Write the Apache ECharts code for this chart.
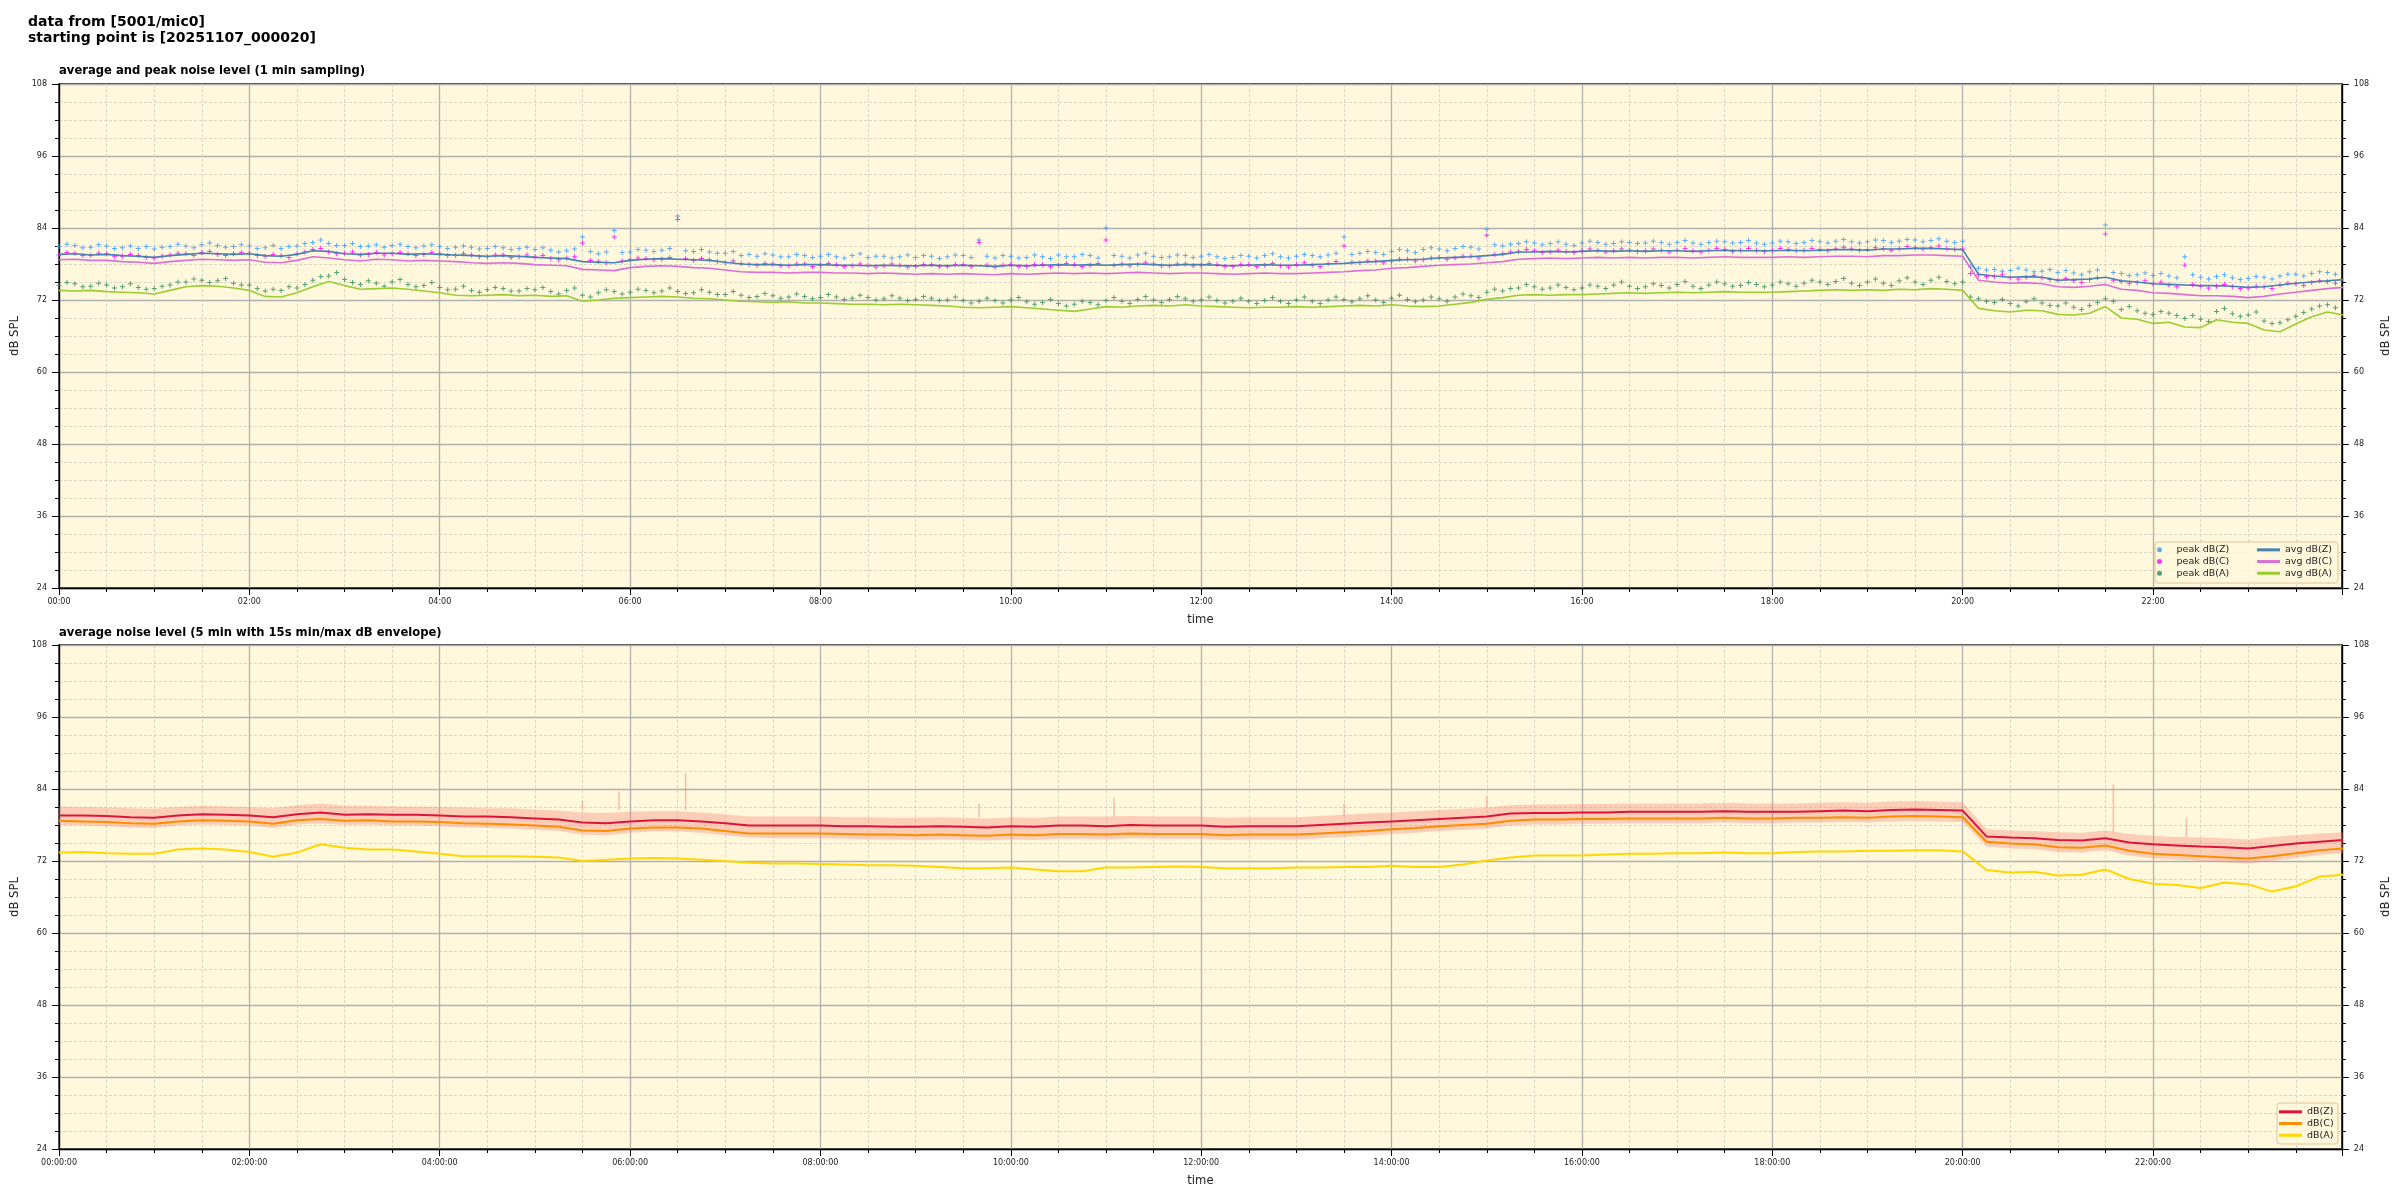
<!DOCTYPE html>
<html><head><meta charset="utf-8">
<script src="https://cdn.jsdelivr.net/npm/echarts@6/dist/echarts.min.js"></script>
<style>html,body{margin:0;padding:0;background:#fff}#c{width:2400px;height:1200px}</style>
</head><body><div id="c"></div>
<script>
// ---------- top panel: 1 min averages read every 10 minutes ----------
const AVG_STEP = 10;
const avgZ = [
79.6,79.7,79.5,79.6,79.4,79.3, 79.1,79.4,79.6,79.8,79.7,79.6, 79.7,79.4,79.3,79.6,80.2,80.1,
79.7,79.6,79.8,79.8,79.6,79.7, 79.6,79.5,79.4,79.3,79.4,79.3, 79.1,79.0,78.9,78.4,78.3,78.2,
78.6,78.8,78.9,78.8,78.7,78.6, 78.3,78.0,77.9,77.9,77.8,77.9, 77.9,77.8,77.8,77.7,77.8,77.7,
77.7,77.8,77.7,77.8,77.7,77.6, 77.8,77.7,77.8,77.9,77.8,77.9, 77.8,77.9,78.0,77.9,77.8,77.9,
77.9,77.8,77.7,77.8,77.9,77.8, 77.8,77.9,78.0,78.1,78.3,78.4, 78.6,78.7,78.8,79.0,79.1,79.2,
79.4,79.6,80.0,80.0,80.1,80.0, 80.1,80.2,80.1,80.2,80.1,80.2, 80.2,80.1,80.2,80.3,80.2,80.2,
80.2,80.3,80.2,80.3,80.4,80.4, 80.3,80.5,80.5,80.6,80.6,80.5, 80.4,76.3,76.0,75.8,75.9,75.8,
75.3,75.4,75.5,75.8,75.2,75.0, 74.7,74.6,74.5,74.4,74.4,74.3, 74.1,74.2,74.5,74.8,75.0,75.2,
75.4];
const avgC = [
78.7,78.8,78.6,78.6,78.4,78.3, 78.1,78.4,78.6,78.8,78.7,78.6, 78.7,78.3,78.2,78.6,79.2,79.0,
78.7,78.5,78.8,78.7,78.5,78.6, 78.5,78.4,78.2,78.1,78.2,78.1, 77.9,77.8,77.7,77.1,77.0,76.9,
77.4,77.6,77.7,77.6,77.4,77.3, 77.0,76.7,76.6,76.6,76.5,76.6, 76.6,76.5,76.5,76.4,76.5,76.4,
76.3,76.4,76.3,76.4,76.3,76.2, 76.4,76.3,76.4,76.5,76.4,76.5, 76.4,76.5,76.6,76.5,76.4,76.5,
76.5,76.4,76.3,76.4,76.5,76.4, 76.4,76.5,76.6,76.7,76.9,77.0, 77.3,77.4,77.6,77.8,77.9,78.0,
78.2,78.4,78.8,78.9,79.0,78.9, 79.0,79.1,79.0,79.1,79.0,79.1, 79.1,79.0,79.1,79.2,79.1,79.1,
79.1,79.2,79.1,79.2,79.3,79.3, 79.2,79.4,79.4,79.5,79.5,79.4, 79.3,75.3,75.0,74.8,74.9,74.7,
74.2,74.1,74.3,74.6,73.8,73.6, 73.2,73.1,72.9,72.7,72.7,72.6, 72.4,72.6,73.0,73.3,73.6,73.9,
74.1];
const avgA = [
73.6,73.5,73.6,73.4,73.3,73.2, 73.0,73.6,74.2,74.4,74.3,74.0, 73.6,72.6,72.5,73.2,74.2,75.1,
74.4,73.8,73.9,74.0,73.8,73.5, 73.2,72.8,72.7,72.8,72.9,72.7, 72.8,72.6,72.7,71.8,72.0,72.3,
72.4,72.5,72.6,72.5,72.3,72.2, 72.0,71.8,71.7,71.6,71.7,71.5, 71.5,71.4,71.3,71.3,71.2,71.3,
71.2,71.1,71.0,70.8,70.7,70.8, 70.9,70.7,70.5,70.3,70.1,70.5, 70.9,70.8,71.0,71.1,71.0,71.2,
71.0,70.9,70.8,70.7,70.8,70.8, 70.9,70.8,70.9,71.0,71.1,71.0, 71.2,71.0,70.9,71.0,71.3,71.6,
72.1,72.4,72.8,72.9,72.8,72.9, 72.9,73.0,73.1,73.2,73.1,73.2, 73.3,73.2,73.3,73.4,73.3,73.3,
73.3,73.4,73.5,73.6,73.7,73.6, 73.7,73.6,73.8,73.7,73.9,73.8, 73.6,70.6,70.2,70.0,70.3,70.2,
69.6,69.5,69.8,70.9,69.0,68.8, 68.1,68.3,67.5,67.4,68.7,68.3, 68.1,67.0,66.7,68.0,69.2,70.0,
69.5];
// ---------- top panel: peaks read every 5 minutes ----------
const PEAK_STEP = 5;
const peakZ = [
80.9,81.3,81.1,80.7,80.8,81.2,81.0,80.6,80.7,81.0,80.6,80.9,
80.5,80.8,80.9,81.3,81.0,80.7,81.2,81.5,81.1,80.8,80.9,81.2,
81.0,80.6,80.7,81.1,80.6,80.9,81.0,81.4,81.6,82.0,81.4,81.1,
81.1,81.4,80.9,81.0,81.2,80.8,81.1,81.3,80.9,80.7,81.0,81.2,
80.9,80.6,80.8,81.0,80.8,80.5,80.6,80.9,80.7,80.4,80.6,80.8,
80.4,80.7,80.3,80.0,80.2,80.5,82.5,80.1,79.7,80.0,83.6,79.9,
80.0,80.4,80.3,80.1,80.3,80.6,86.0,80.2,80.1,80.4,80.0,79.8,
79.8,80.1,79.4,79.6,79.3,79.7,79.5,79.2,79.2,79.6,79.4,79.1,
79.3,79.6,79.2,79.0,79.4,79.7,79.1,79.3,79.3,79.0,79.2,79.5,
79.1,79.4,79.3,78.9,79.2,79.5,79.4,79.1,82.0,79.3,79.0,79.4,
79.3,79.0,79.1,79.5,79.2,78.9,79.5,79.2,79.2,79.6,79.4,79.0,
84.0,79.4,79.3,79.0,79.5,79.8,79.3,79.1,79.2,79.5,79.4,79.1,
79.3,79.6,79.2,78.9,79.1,79.4,79.3,79.0,79.4,79.7,79.2,79.0,
79.3,79.6,79.4,79.2,79.5,79.8,82.5,79.6,79.8,80.1,79.9,79.6,
80.1,80.4,80.2,79.9,80.4,80.7,80.5,80.2,80.6,80.9,80.8,80.5,
83.8,81.2,81.0,81.3,81.4,81.7,81.5,81.2,81.4,81.7,81.3,81.1,
81.5,81.8,81.6,81.3,81.4,81.7,81.6,81.4,81.5,81.8,81.6,81.3,
81.6,81.9,81.5,81.3,81.6,81.8,81.7,81.5,81.6,81.9,81.5,81.3,
81.5,81.8,81.7,81.4,81.6,81.9,81.7,81.5,81.8,82.1,81.7,81.5,
81.7,82.0,81.9,81.6,81.8,82.1,82.0,81.7,81.9,82.2,81.8,81.6,
81.8,77.5,77.3,77.0,77.1,76.8,76.9,77.3,77.0,76.7,76.8,77.1,
76.6,76.9,76.5,76.2,76.7,77.0,84.5,76.6,76.4,76.1,76.2,76.5,
76.1,76.4,76.0,75.7,79.2,76.2,75.8,75.5,75.9,76.2,75.7,75.4,
75.6,75.9,75.8,75.5,76.0,76.3,76.3,76.0,76.4,76.7,76.6,76.3,
76.6];
const peakC = [
79.5,79.9,79.8,79.4,79.4,79.8,79.7,79.3,79.3,79.6,79.4,79.1,
79.0,79.3,79.5,79.8,79.7,79.4,79.9,80.1,79.6,79.4,79.7,79.9,
79.8,79.4,79.3,79.6,79.4,79.1,79.7,80.0,80.4,80.6,80.0,79.7,
79.8,80.0,79.5,79.6,79.9,79.5,79.7,79.9,79.7,79.4,79.6,79.9,
79.7,79.4,79.4,79.7,79.5,79.2,79.2,79.5,79.5,79.1,79.2,79.5,
79.2,79.4,78.9,78.7,79.0,79.2,81.5,78.6,78.4,78.2,82.5,78.5,
78.7,79.0,78.9,78.7,78.8,79.1,85.4,78.9,78.6,78.9,78.7,78.4,
78.2,78.5,78.1,77.9,77.8,78.1,78.0,77.7,77.7,78.0,78.0,77.6,
77.8,78.1,77.9,77.6,77.7,78.0,77.8,77.5,77.7,78.0,77.8,77.5,
77.6,77.9,77.9,77.6,77.6,77.9,77.9,77.6,81.6,77.8,77.5,77.8,
77.9,77.6,77.6,77.9,77.9,77.6,77.8,78.1,77.9,77.6,77.8,78.1,
82.0,77.8,78.0,77.7,77.9,78.2,78.0,77.7,77.7,78.0,78.0,77.7,
77.8,78.1,77.9,77.6,77.6,77.9,77.9,77.6,77.8,78.1,77.7,77.5,
77.9,78.2,77.8,77.6,78.1,78.4,81.0,78.3,78.2,78.5,78.5,78.2,
78.5,78.8,78.8,78.5,78.7,79.0,79.1,78.8,79.0,79.3,79.3,79.0,
82.8,79.6,79.7,80.0,80.1,80.4,80.2,79.9,80.0,80.3,80.1,79.9,
80.2,80.5,80.3,80.0,80.2,80.5,80.3,80.1,80.2,80.5,80.3,80.0,
80.3,80.6,80.2,80.0,80.3,80.6,80.4,80.1,80.3,80.6,80.3,80.1,
80.3,80.6,80.4,80.2,80.3,80.6,80.4,80.2,80.5,80.8,80.5,80.3,
80.4,80.7,80.6,80.3,80.6,80.9,80.7,80.5,80.7,81.0,80.6,80.4,
80.5,76.4,76.2,75.9,75.9,76.2,75.7,75.5,75.8,76.1,75.7,75.4,
75.3,75.6,75.2,74.9,75.4,75.7,83.0,75.3,75.1,74.8,74.9,75.2,
74.7,75.0,74.5,74.2,77.8,74.6,74.3,74.0,74.3,74.6,74.2,73.9,
74.0,74.3,74.2,73.9,74.5,74.8,74.7,74.4,74.9,75.2,75.1,74.8,
75.3];
const peakA = [
74.4,74.9,74.7,74.2,74.3,74.8,74.5,74.0,74.2,74.7,74.1,73.8,
73.9,74.3,74.5,75.0,75.0,75.5,75.3,74.9,75.2,75.6,74.8,74.5,
74.5,73.9,73.5,73.8,73.6,74.2,74.0,74.6,75.3,75.9,76.0,76.6,
75.4,74.9,74.6,75.2,74.8,74.3,75.0,75.4,74.6,74.2,74.4,74.9,
74.1,73.7,73.8,74.3,73.6,73.3,73.7,74.1,73.9,73.5,73.5,73.9,
73.7,74.1,73.4,73.0,73.6,74.0,72.8,72.5,73.2,73.7,73.4,73.0,
73.3,73.8,73.6,73.2,73.5,74.0,73.4,73.1,73.2,73.7,73.3,72.9,
72.9,73.4,72.8,72.4,72.6,73.1,72.7,72.3,72.5,73.0,72.6,72.2,
72.4,72.9,72.5,72.1,72.3,72.8,72.4,72.0,72.2,72.7,72.3,71.9,
72.1,72.6,72.3,71.9,72.0,72.5,71.9,71.5,71.8,72.3,71.9,71.5,
72.0,72.4,71.7,71.3,71.6,72.1,71.4,71.0,71.3,71.8,71.6,71.2,
71.9,72.4,71.8,71.4,72.1,72.6,72.0,71.6,72.1,72.6,72.2,71.8,
72.0,72.5,71.9,71.5,71.8,72.3,71.8,71.4,71.9,72.4,71.8,71.4,
72.0,72.5,71.8,71.4,72.0,72.5,72.1,71.7,72.2,72.7,72.0,71.6,
72.3,72.8,72.1,71.7,72.0,72.5,72.2,71.8,72.5,73.0,72.7,72.4,
73.3,73.8,73.5,73.9,74.0,74.6,74.2,73.8,74.0,74.5,74.1,73.7,
74.0,74.5,74.3,73.9,74.5,75.0,74.3,73.9,74.2,74.7,74.4,74.0,
74.6,75.1,74.3,73.9,74.5,75.0,74.7,74.3,74.4,74.9,74.6,74.2,
74.5,75.0,74.7,74.3,74.8,75.3,75.0,74.6,75.1,75.6,74.8,74.4,
75.0,75.5,74.8,74.4,75.2,75.7,75.0,74.6,75.3,75.8,75.1,74.7,
75.0,72.5,72.2,71.8,71.6,72.1,71.4,71.0,71.7,72.2,71.5,71.1,
71.0,71.5,70.8,70.4,71.1,71.6,72.2,71.8,70.4,70.9,70.2,69.8,
69.6,70.1,69.8,69.4,68.9,69.4,68.8,68.4,70.1,70.6,69.7,69.3,
69.5,70.0,68.5,68.1,68.2,68.7,69.3,69.9,70.5,71.0,71.2,70.7,
70.8];

// ---------- bottom panel: 5 min averages read every 15 minutes ----------
const BOT_STEP = 15;
const dbZ = [
79.6,79.6,79.5,79.3, 79.2,79.6,79.8,79.7, 79.6,79.3,79.8,80.1, 79.7,79.8,79.7,79.7,
79.6,79.4,79.4,79.3, 79.1,78.9,78.4,78.3, 78.6,78.8,78.8,78.6, 78.3,77.9,77.9,77.9,
77.9,77.8,77.8,77.7, 77.7,77.8,77.7,77.6, 77.8,77.7,77.9,77.9, 77.8,78.0,77.9,77.9,
77.9,77.7,77.8,77.8, 77.8,78.0,78.2,78.4, 78.6,78.8,79.0,79.2, 79.4,79.9,80.0,80.0,
80.1,80.1,80.2,80.2, 80.2,80.2,80.3,80.2, 80.2,80.2,80.3,80.4, 80.3,80.5,80.6,80.5,
80.4,76.1,75.9,75.8, 75.5,75.4,75.8,75.1, 74.8,74.6,74.4,74.3, 74.1,74.5,74.9,75.2,
75.5];
const dbC = [
78.7,78.6,78.5,78.3, 78.2,78.6,78.8,78.7, 78.6,78.2,78.8,79.0, 78.7,78.8,78.6,78.6,
78.5,78.3,78.2,78.1, 77.9,77.7,77.1,77.0, 77.4,77.6,77.6,77.4, 77.0,76.6,76.6,76.6,
76.6,76.5,76.4,76.4, 76.3,76.4,76.3,76.2, 76.4,76.3,76.5,76.5, 76.4,76.6,76.5,76.5,
76.5,76.3,76.4,76.4, 76.4,76.6,76.8,77.0, 77.3,77.5,77.8,78.0, 78.2,78.7,78.9,78.9,
79.0,79.0,79.1,79.1, 79.1,79.1,79.2,79.1, 79.1,79.2,79.2,79.3, 79.2,79.4,79.5,79.4,
79.3,75.2,74.9,74.8, 74.3,74.2,74.6,73.7, 73.2,73.0,72.8,72.6, 72.4,72.8,73.3,73.8,
74.1];
const dbA = [
73.4,73.5,73.3,73.2, 73.2,73.9,74.1,73.9, 73.5,72.7,73.4,74.8, 74.2,73.9,73.9,73.6,
73.2,72.8,72.8,72.8, 72.7,72.6,72.0,72.2, 72.4,72.5,72.4,72.2, 72.0,71.7,71.6,71.6,
71.5,71.4,71.3,71.3, 71.2,71.0,70.8,70.8, 70.9,70.6,70.3,70.3, 70.9,70.9,71.0,71.1,
71.0,70.8,70.8,70.8, 70.9,70.9,71.0,71.0, 71.2,71.0,71.0,71.4, 72.1,72.6,72.9,72.9,
72.9,73.1,73.2,73.2, 73.3,73.3,73.4,73.3, 73.3,73.5,73.6,73.6, 73.7,73.7,73.8,73.8,
73.6,70.5,70.1,70.2, 69.6,69.7,70.6,69.0, 68.2,68.0,67.5,68.4, 68.1,66.9,67.8,69.4,
69.7];
const envMax = [
81.1,81.0,80.9,80.8, 80.7,81.0,81.2,81.1, 81.0,80.8,81.3,81.6, 81.2,81.2,81.1,81.1,
81.0,80.9,80.8,80.8, 80.6,80.4,80.1,80.0, 80.2,80.3,80.3,80.1, 79.8,79.4,79.4,79.4,
79.4,79.3,79.3,79.2, 79.2,79.3,79.2,79.1, 79.3,79.2,79.4,79.4, 79.4,79.5,79.4,79.4,
79.4,79.2,79.3,79.3, 79.3,79.5,79.7,79.9, 80.1,80.3,80.5,80.7, 80.9,81.3,81.4,81.4,
81.5,81.5,81.6,81.6, 81.6,81.6,81.7,81.6, 81.6,81.6,81.7,81.8, 81.7,81.9,82.0,81.9,
81.8,77.3,77.1,77.0, 76.8,76.7,77.1,76.5, 76.2,76.0,75.9,75.8, 75.6,76.0,76.3,76.6,
76.8];
const envMin = [
78.0,77.9,77.8,77.6, 77.5,77.9,78.1,78.0, 77.9,77.5,78.1,78.3, 78.0,78.1,77.9,77.9,
77.8,77.6,77.5,77.4, 77.2,77.0,76.4,76.3, 76.7,76.9,76.9,76.7, 76.3,75.9,75.8,75.8,
75.8,75.7,75.6,75.6, 75.5,75.6,75.5,75.4, 75.6,75.5,75.7,75.7, 75.6,75.8,75.7,75.7,
75.7,75.5,75.6,75.6, 75.6,75.8,76.0,76.2, 76.5,76.7,77.0,77.2, 77.4,77.9,78.1,78.1,
78.2,78.2,78.3,78.3, 78.3,78.3,78.4,78.3, 78.3,78.4,78.4,78.5, 78.4,78.6,78.7,78.6,
78.5,74.4,74.1,74.0, 73.5,73.4,73.8,72.9, 72.4,72.2,72.0,71.8, 71.6,72.0,72.5,73.0,
73.3];
// short 15 s peaks in the envelope: minute of day, low and high dB
const spikeMin = [330, 353, 395, 580, 665, 810, 900, 1295, 1341];
const spikeLo  = [80.5, 80.5, 80.5, 79.3, 79.3, 79.6, 81.0, 76.8, 76.0];
const spikeHi  = [82.0, 83.6, 86.6, 81.5, 82.5, 81.5, 82.7, 84.8, 79.2];

// ---------- axes ----------
const X_MAX = 1439, X_INTERVAL = 120;
const Y_MIN = 24, Y_MAX = 108, Y_INTERVAL = 12;

const pad = n => String(n).padStart(2, '0');
const hhmm = v => pad(Math.floor(v / 60)) + ':' + pad(Math.round(v % 60));
const hhmmss = v => hhmm(v) + ':00';

const PLUS = 'path://M2,0H3V2H5V3H3V5H2V3H0V2H2Z';
const BG = '#fff8dc';
const TXT = '#222';
const MINOR = { color: '#d2ccbd', width: 0.8, type: [3, 2] };

function xAxis(gridIndex, fmt) {
  return {
    type: 'value', gridIndex, min: 0, max: X_MAX, interval: X_INTERVAL,
    name: 'time', nameLocation: 'middle', nameGap: 26,
    nameTextStyle: { fontSize: 11.6, color: TXT, fontFamily: 'DejaVu Sans' },
    axisLine: { show: true, lineStyle: { color: '#000', width: 1.3 } },
    axisTick: { show: true, inside: false, length: 7, lineStyle: { color: '#000', width: 1 } },
    minorTick: { show: true, splitNumber: 4, length: 4, lineStyle: { color: '#000', width: 1 } },
    axisLabel: { formatter: fmt, fontSize: 8, color: TXT, margin: 10, showMaxLabel: false, fontFamily: 'DejaVu Sans' },
    splitLine: { show: true, lineStyle: { color: '#b0b0b0', width: 1.3 } },
    minorSplitLine: { show: true, lineStyle: MINOR }
  };
}
function yAxis(gridIndex, position, grid) {
  return {
    type: 'value', gridIndex, position, min: Y_MIN, max: Y_MAX, interval: Y_INTERVAL,
    name: 'dB SPL', nameLocation: 'middle', nameRotate: 90, nameGap: position === 'left' ? 35 : 32,
    nameTextStyle: { fontSize: 11.6, color: TXT, fontFamily: 'DejaVu Sans' },
    axisLine: { show: true, lineStyle: { color: '#000', width: 1.3 } },
    axisTick: { show: true, inside: false, length: 7, lineStyle: { color: '#000', width: 1 } },
    minorTick: { show: true, splitNumber: 4, length: 4, lineStyle: { color: '#000', width: 1 } },
    axisLabel: { fontSize: 8, color: TXT, margin: 12, fontFamily: 'DejaVu Sans' },
    splitLine: { show: grid, lineStyle: { color: '#b0b0b0', width: 1.3 } },
    minorSplitLine: { show: grid, lineStyle: MINOR }
  };
}

const pts = (arr, step) => arr.map((v, i) => [i * step, v]);

function peakSeries(name, arr, color) {
  return { name, type: 'scatter', xAxisIndex: 0, yAxisIndex: 0, data: pts(arr, PEAK_STEP),
    symbol: PLUS, symbolSize: 5, color, itemStyle: { color }, z: 2 };
}
function lineSeries(name, arr, step, color, xi, yi, width) {
  return { name, type: 'line', xAxisIndex: xi, yAxisIndex: yi, data: pts(arr, step),
    showSymbol: false, symbol: 'none', color, itemStyle: { color },
    lineStyle: { color, width }, z: 3 };
}
const legendText = { fontSize: 9.5, color: TXT, lineHeight: 11.7, fontFamily: 'DejaVu Sans' };

const chart = echarts.init(document.getElementById('c'), null, { renderer: 'canvas' });
chart.setOption({
  animation: false,
  backgroundColor: '#ffffff',
  textStyle: { fontFamily: 'DejaVu Sans' },
  title: [
    { text: 'data from [5001/mic0]\nstarting point is [20251107_000020]', left: 23, top: 10,
      textStyle: { fontSize: 14, fontWeight: 'bold', color: '#000', lineHeight: 15.5, fontFamily: 'DejaVu Sans' } },
    { text: 'average and peak noise level (1 min sampling)', left: 59, top: 64, padding: 0,
      textStyle: { fontSize: 11.6, fontWeight: 'bold', color: '#000', lineHeight: 14, fontFamily: 'DejaVu Sans' } },
    { text: 'average noise level (5 min with 15s min/max dB envelope)', left: 59, top: 626, padding: 0,
      textStyle: { fontSize: 11.6, fontWeight: 'bold', color: '#000', lineHeight: 14, fontFamily: 'DejaVu Sans' } }
  ],
  grid: [
    { left: 59, top: 84, width: 2284, height: 504, show: true, backgroundColor: BG, borderColor: '#000', borderWidth: 1.3 },
    { left: 59, top: 645, width: 2284, height: 504, show: true, backgroundColor: BG, borderColor: '#000', borderWidth: 1.3 }
  ],
  xAxis: [ xAxis(0, hhmm), xAxis(1, hhmmss) ],
  yAxis: [ yAxis(0, 'left', true), yAxis(0, 'right', false), yAxis(1, 'left', true), yAxis(1, 'right', false) ],
  graphic: [
    { type: 'rect', z: 3, shape: { x: 2155, y: 542, width: 183, height: 41, r: 3 },
      style: { fill: 'rgba(255,248,220,0.85)', stroke: '#dcc69c', lineWidth: 1 } },
    { type: 'rect', z: 3, shape: { x: 2277, y: 1103, width: 61, height: 41, r: 3 },
      style: { fill: 'rgba(255,248,220,0.85)', stroke: '#dcc69c', lineWidth: 1 } }
  ],
  legend: [
    { orient: 'vertical', left: 2157, top: 544, padding: 0, itemGap: 0, itemWidth: 24, itemHeight: 5,
      selectedMode: false, z: 5, textStyle: legendText,
      data: [ { name: 'peak dB(Z)', icon: 'circle' }, { name: 'peak dB(C)', icon: 'circle' }, { name: 'peak dB(A)', icon: 'circle' } ] },
    { orient: 'vertical', left: 2257, top: 544, padding: 0, itemGap: 0, itemWidth: 23, itemHeight: 3,
      selectedMode: false, z: 5, textStyle: legendText,
      data: [ { name: 'avg dB(Z)', icon: 'rect' }, { name: 'avg dB(C)', icon: 'rect' }, { name: 'avg dB(A)', icon: 'rect' } ] },
    { orient: 'vertical', left: 2279, top: 1106, padding: 0, itemGap: 0, itemWidth: 23, itemHeight: 3,
      selectedMode: false, z: 5, textStyle: legendText,
      data: [ { name: 'dB(Z)', icon: 'rect' }, { name: 'dB(C)', icon: 'rect' }, { name: 'dB(A)', icon: 'rect' } ] }
  ],
  series: [
    peakSeries('peak dB(Z)', peakZ, '#3399ff'),
    peakSeries('peak dB(C)', peakC, '#ff00ff'),
    peakSeries('peak dB(A)', peakA, '#2e8b57'),
    lineSeries('avg dB(Z)', avgZ, AVG_STEP, '#4682b4', 0, 0, 1.6),
    lineSeries('avg dB(C)', avgC, AVG_STEP, '#da70d6', 0, 0, 1.6),
    lineSeries('avg dB(A)', avgA, AVG_STEP, '#9acd32', 0, 0, 1.6),
    { name: 'envelope', type: 'custom', xAxisIndex: 1, yAxisIndex: 2, z: 1, silent: true,
      data: [[0, envMax[0]]],
      renderItem: function (params, api) {
        const p = [];
        for (let i = 0; i < envMax.length; i++) p.push(api.coord([i * BOT_STEP, envMax[i]]));
        for (let i = envMin.length - 1; i >= 0; i--) p.push(api.coord([i * BOT_STEP, envMin[i]]));
        return { type: 'polygon', shape: { points: p }, style: { fill: 'rgba(250,128,114,0.35)' } };
      } },
    { name: 'spikes', type: 'custom', xAxisIndex: 1, yAxisIndex: 2, z: 1, silent: true,
      data: spikeMin.map((t, i) => [t, spikeLo[i], spikeHi[i]]),
      encode: { x: 0, y: [1, 2] },
      renderItem: function (params, api) {
        const a = api.coord([api.value(0), api.value(1)]);
        const b = api.coord([api.value(0), api.value(2)]);
        return { type: 'line', shape: { x1: a[0], y1: a[1], x2: b[0], y2: b[1] },
          style: { stroke: 'rgba(250,128,114,0.5)', lineWidth: 1.5 } };
      } },
    lineSeries('dB(Z)', dbZ, BOT_STEP, '#dc143c', 1, 2, 2),
    lineSeries('dB(C)', dbC, BOT_STEP, '#ff8c00', 1, 2, 2),
    lineSeries('dB(A)', dbA, BOT_STEP, '#ffd700', 1, 2, 2)
  ]
});
</script>
</body></html>
